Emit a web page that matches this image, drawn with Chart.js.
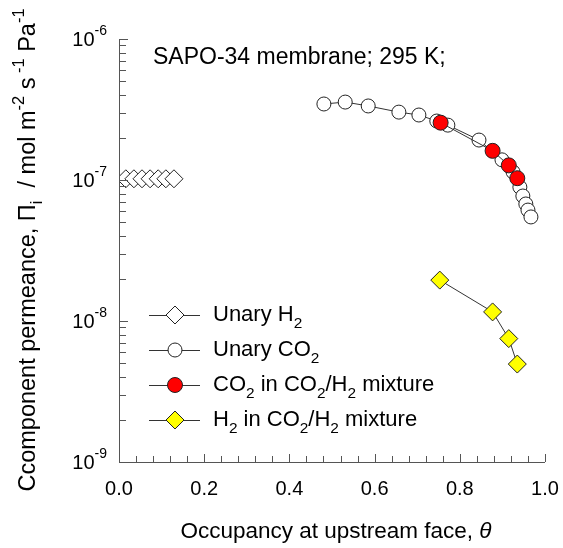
<!DOCTYPE html>
<html>
<head>
<meta charset="utf-8">
<script src="https://cdn.jsdelivr.net/npm/chart.js@4/dist/chart.umd.min.js"></script>
<style>
  body { margin: 0; background: #fff; }
  canvas { display: block; }
</style>
</head>
<body>
<canvas id="permChart" width="563" height="548"></canvas>
<script>
// --- data ---
const h2UnaryX = [0.016, 0.035, 0.054, 0.073, 0.092, 0.110, 0.129];
const h2UnaryY = [1.02e-7, 1.02e-7, 1.02e-7, 1.02e-7, 1.02e-7, 1.02e-7, 1.02e-7];

const co2UnaryX = [0.481, 0.531, 0.585, 0.657, 0.704, 0.746, 0.772, 0.845, 0.899, 0.925, 0.941, 0.948, 0.955, 0.960, 0.967];
const co2UnaryY = [3.46e-7, 3.57e-7, 3.35e-7, 3.03e-7, 2.89e-7, 2.62e-7, 2.45e-7, 1.92e-7, 1.39e-7, 1.14e-7, 8.9e-8, 7.7e-8, 6.76e-8, 6.12e-8, 5.47e-8];

const co2MixX = [0.755, 0.877, 0.915, 0.935];
const co2MixY = [2.55e-7, 1.61e-7, 1.27e-7, 1.03e-7];

const h2MixX = [0.753, 0.877, 0.915, 0.935];
const h2MixY = [1.95e-8, 1.16e-8, 7.5e-9, 4.95e-9];

const xTickLabels = ['0.0', '0.2', '0.4', '0.6', '0.8', '1.0'];
const yDecades = [-6, -7, -8, -9];

const FONT = '"Liberation Sans", Arial, sans-serif';
const LINE = '#333';

function pts(xs, ys) {
    return xs.map((x, i) => ({ x: x, y: ys[i] }));
}

// draws text made of pieces, some of them sub- or superscript
function richWidth(ctx, parts, size) {
    let w = 0;
    parts.forEach(p => {
        const s = p.sub || p.sup ? size * 0.7 : size;
        ctx.font = (p.italic ? 'italic ' : '') + s + 'px ' + FONT;
        w += ctx.measureText(p.t).width;
    });
    return w;
}
function drawRich(ctx, parts, x, y, size, align) {
    const w = richWidth(ctx, parts, size);
    let cx = align === 'right' ? x - w : align === 'center' ? x - w / 2 : x;
    ctx.textBaseline = 'middle';
    ctx.textAlign = 'left';
    ctx.fillStyle = '#000';
    parts.forEach(p => {
        const s = p.sub || p.sup ? size * 0.7 : size;
        ctx.font = (p.italic ? 'italic ' : '') + s + 'px ' + FONT;
        let dy = 0;
        if (p.sub) dy = size * 0.38;
        if (p.sup) dy = -size * 0.42;
        ctx.fillText(p.t, cx, y + dy);
        cx += ctx.measureText(p.t).width;
    });
}

const legendItems = [
    { parts: [{ t: 'Unary H' }, { t: '2', sub: true }], style: 'rectRot', r: 9, fill: '#fff' },
    { parts: [{ t: 'Unary CO' }, { t: '2', sub: true }], style: 'circle', r: 7, fill: '#fff' },
    { parts: [{ t: 'CO' }, { t: '2', sub: true }, { t: ' in CO' }, { t: '2', sub: true }, { t: '/H' }, { t: '2', sub: true }, { t: ' mixture' }], style: 'circle', r: 7.5, fill: '#ff0000' },
    { parts: [{ t: 'H' }, { t: '2', sub: true }, { t: ' in CO' }, { t: '2', sub: true }, { t: '/H' }, { t: '2', sub: true }, { t: ' mixture' }], style: 'rectRot', r: 9, fill: '#ffff00' }
];

const decorPlugin = {
    id: 'decor',
    afterDraw(chart) {
        const ctx = chart.ctx;
        const a = chart.chartArea;
        const xs = chart.scales.x, ys = chart.scales.y;
        ctx.save();
        ctx.strokeStyle = '#555';
        ctx.lineWidth = 1;

        // axis lines
        ctx.beginPath();
        ctx.moveTo(a.left + 0.5, a.top);
        ctx.lineTo(a.left + 0.5, a.bottom + 0.5);
        ctx.lineTo(a.right, a.bottom + 0.5);
        ctx.stroke();

        // x ticks every 0.04, inward
        for (let i = 0; i <= 25; i++) {
            const v = i * 0.04;
            const px = Math.round(xs.getPixelForValue(v)) + 0.5;
            const len = i % 5 === 0 ? 8 : 6;
            ctx.beginPath();
            ctx.moveTo(px, a.bottom);
            ctx.lineTo(px, a.bottom - len);
            ctx.stroke();
        }
        // y ticks, log minor, inward
        for (let d = -9; d <= -6; d++) {
            for (let m = 1; m <= 9; m++) {
                const v = m * Math.pow(10, d);
                if (v > 1e-6 * 1.0001) break;
                const py = Math.round(ys.getPixelForValue(v)) + 0.5;
                const len = m === 1 ? 9 : 7;
                ctx.beginPath();
                ctx.moveTo(a.left, py);
                ctx.lineTo(a.left + len, py);
                ctx.stroke();
            }
        }

        // x tick labels
        ctx.fillStyle = '#000';
        ctx.font = '20px ' + FONT;
        ctx.textAlign = 'center';
        ctx.textBaseline = 'middle';
        xTickLabels.forEach(l => {
            ctx.fillText(l, xs.getPixelForValue(parseFloat(l)), a.bottom + 27);
        });

        // y tick labels
        yDecades.forEach(d => {
            const py = ys.getPixelForValue(Math.pow(10, d));
            drawRich(ctx, [{ t: '10' }, { t: String(d), sup: true }], a.left - 12, py + 1, 20, 'right');
        });

        // axis titles
        drawRich(ctx, [{ t: 'Occupancy at upstream face, ' }, { t: 'θ', italic: true }], 336, 532, 22.5, 'center');

        ctx.save();
        ctx.translate(29, 250);
        ctx.rotate(-Math.PI / 2);
        drawRich(ctx, [
            { t: 'Ccomponent permeance, Π' }, { t: 'i', sub: true },
            { t: '  / mol m' }, { t: '-2', sup: true },
            { t: ' s' }, { t: ' -1', sup: true },
            { t: ' Pa' }, { t: '-1', sup: true }
        ], 0, 0, 23.5, 'center');
        ctx.restore();

        // annotation
        drawRich(ctx, [{ t: 'SAPO-34 membrane; 295 K;' }], 153, 58, 23, 'left');

        // legend
        legendItems.forEach((it, i) => {
            const y = 315 + i * 35;
            ctx.strokeStyle = LINE;
            ctx.lineWidth = 1;
            ctx.beginPath();
            ctx.moveTo(149, y + 0.5);
            ctx.lineTo(200, y + 0.5);
            ctx.stroke();
            ctx.fillStyle = it.fill;
            ctx.strokeStyle = '#222';
            Chart.helpers.drawPoint(ctx, { pointStyle: it.style, radius: it.r, borderWidth: 1 }, 175, y);
            drawRich(ctx, it.parts, 213, y, 22, 'left');
        });
        ctx.restore();
    }
};

new Chart(document.getElementById('permChart'), {
    type: 'scatter',
    data: {
        datasets: [
            {
                label: 'Unary H2',
                data: pts(h2UnaryX, h2UnaryY),
                showLine: true,
                borderColor: LINE,
                borderWidth: 1,
                pointStyle: 'rectRot',
                pointRadius: 9,
                pointBackgroundColor: '#fff',
                pointBorderColor: '#222',
                order: 3
            },
            {
                label: 'Unary CO2',
                data: pts(co2UnaryX, co2UnaryY),
                showLine: true,
                borderColor: LINE,
                borderWidth: 1,
                pointStyle: 'circle',
                pointRadius: 7,
                pointBackgroundColor: '#fff',
                pointBorderColor: '#222',
                order: 2
            },
            {
                label: 'CO2 in CO2/H2 mixture',
                data: pts(co2MixX, co2MixY),
                showLine: true,
                borderColor: LINE,
                borderWidth: 1,
                pointStyle: 'circle',
                pointRadius: 7.5,
                pointBackgroundColor: '#ff0000',
                pointBorderColor: '#222',
                order: 1
            },
            {
                label: 'H2 in CO2/H2 mixture',
                data: pts(h2MixX, h2MixY),
                showLine: true,
                borderColor: LINE,
                borderWidth: 1,
                pointStyle: 'rectRot',
                pointRadius: 9,
                pointBackgroundColor: '#ffff00',
                pointBorderColor: '#222',
                order: 0
            }
        ]
    },
    options: {
        responsive: false,
        animation: false,
        layout: { padding: { left: 119, right: 18, top: 39, bottom: 86 } },
        plugins: {
            legend: { display: false },
            tooltip: { enabled: false }
        },
        scales: {
            x: { type: 'linear', min: 0, max: 1, display: false },
            y: { type: 'logarithmic', min: 1e-9, max: 1e-6, display: false }
        },
        elements: { line: { tension: 0 } }
    },
    plugins: [decorPlugin]
});
</script>
</body>
</html>
